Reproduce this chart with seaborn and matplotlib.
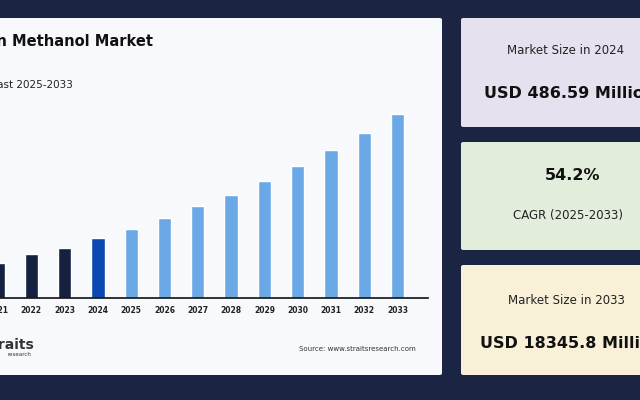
import matplotlib
matplotlib.use("Agg")
import matplotlib.pyplot as plt
import seaborn as sns
import pandas as pd
from matplotlib.patches import FancyBboxPatch

years = ["2021","2022","2023","2024","2025","2026","2027","2028","2029","2030","2031","2032","2033"]
values = [35, 44, 50, 60, 69, 80, 92, 103, 117, 132, 148, 165, 184]
colors = ["#15213f"]*3 + ["#0a47b0"] + ["#6aa8e6"]*9

sns.set_theme(style="white")
plt.rcParams['font.family'] = ['DejaVu Sans']
W, H = 640, 400
fig = plt.figure(figsize=(6.4, 4), dpi=100)
fig.patch.set_facecolor("#1b2442")

def fx(x): return x / W
def fy(y): return 1 - y / H

def panel(x0, y0, x1, y1, c):
    fig.patches.append(FancyBboxPatch((fx(x0), fy(y1)), fx(x1 - x0), (y1 - y0) / H,
                                      boxstyle="round,pad=0,rounding_size=0.004",
                                      transform=fig.transFigure, facecolor=c, edgecolor="none", zorder=-5))
panel(-5, 18, 442, 375, "#f8f9fc")
panel(461, 18, 650, 127, "#e6e1ee")
panel(461, 142, 650, 250, "#e3eddb")
panel(461, 265, 650, 375, "#f8f1d8")

step = 33.3
xl = -2 - 0.5 * step
x1px = 428
ax = fig.add_axes([fx(xl), fy(298), fx(x1px - xl), (298 - 100) / H])
ax.set_zorder(5)
df = pd.DataFrame({"year": years, "value": values})
sns.barplot(data=df, x="year", y="value", hue="year", palette=colors, legend=False, ax=ax, width=0.4, saturation=1)
ax.set_xlim(-0.5, (x1px - xl) / step - 0.5)
ax.set_ylim(0, 198)
ax.set_facecolor("none")
for s in ["top", "right", "left"]:
    ax.spines[s].set_visible(False)
ax.spines["bottom"].set_color("#111111")
ax.spines["bottom"].set_linewidth(1.2)
ax.set_yticks([])
ax.set_xlabel(""); ax.set_ylabel("")
ax.tick_params(axis="x", length=0, pad=6, labelsize=5.5, colors="#222222")
for t in ax.get_xticklabels():
    t.set_fontweight("bold")

fig.text(fx(153), fy(42), "Green Methanol Market", ha="right", va="center", fontsize=10.5, fontweight="bold", color="#111111")
fig.text(fx(73), fy(85), "Forecast 2025-2033", ha="right", va="center", fontsize=7.5, color="#222222")
fig.text(fx(34), fy(345), "straits", ha="right", va="center", fontsize=10, fontweight="bold", color="#333333")
fig.text(fx(31), fy(355), "research", ha="right", va="center", fontsize=4, color="#333333")
fig.text(fx(416), fy(349), "Source: www.straitsresearch.com", ha="right", va="center", fontsize=5, color="#333333")

fig.text(fx(566), fy(50), "Market Size in 2024", ha="center", va="center", fontsize=8.5, color="#222222")
fig.text(fx(484), fy(93), "USD 486.59 Million", ha="left", va="center", fontsize=11.5, fontweight="bold", color="#111111")
fig.text(fx(573), fy(176), "54.2%", ha="center", va="center", fontsize=11.5, fontweight="bold", color="#111111")
fig.text(fx(568), fy(215), "CAGR (2025-2033)", ha="center", va="center", fontsize=8.5, color="#222222")
fig.text(fx(566), fy(300), "Market Size in 2033", ha="center", va="center", fontsize=8.5, color="#222222")
fig.text(fx(480), fy(343), "USD 18345.8 Million", ha="left", va="center", fontsize=11.5, fontweight="bold", color="#111111")

fig.savefig("out.png", dpi=100, facecolor=fig.get_facecolor())
